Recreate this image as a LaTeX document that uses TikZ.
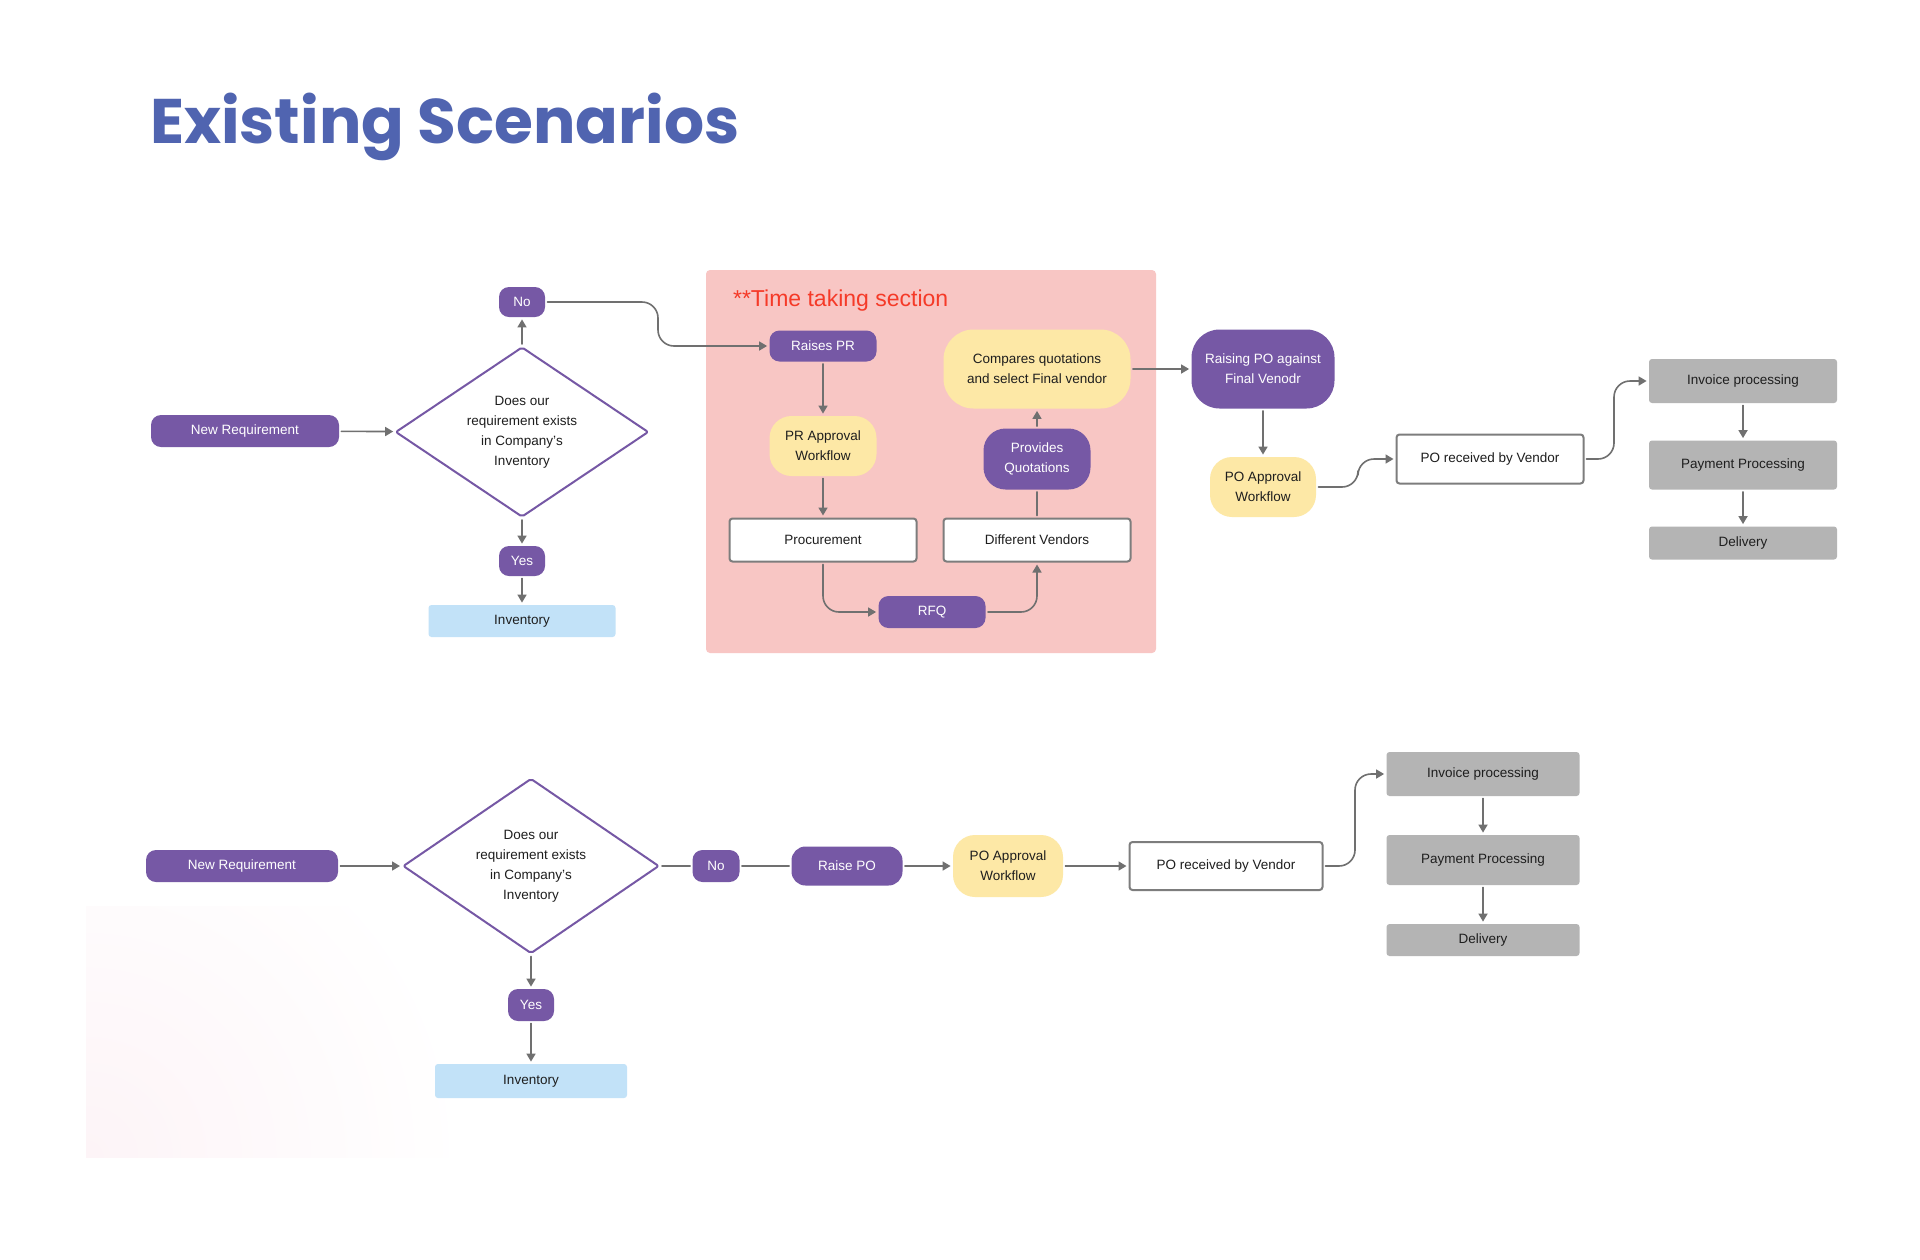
\documentclass[tikz,border=0pt]{standalone}
\usepackage{fontspec}
\setmainfont{Liberation Sans}
\newfontfamily\titlefont{Poppins}
\usetikzlibrary{shapes.geometric,arrows.meta}
\definecolor{scnpurple}{RGB}{118,88,165}
\definecolor{scnyellow}{RGB}{253,232,166}
\definecolor{scnpink}{RGB}{248,198,196}
\definecolor{scnblue}{RGB}{194,226,248}
\definecolor{scngray}{RGB}{180,180,180}
\definecolor{scnred}{RGB}{245,58,40}
\definecolor{titleblue}{RGB}{80,100,176}
\definecolor{linegray}{RGB}{112,112,112}
\definecolor{boxgray}{RGB}{125,125,125}
\definecolor{textdark}{RGB}{30,30,30}
\definecolor{scnblush}{RGB}{253,244,247}
\begin{document}
\begin{tikzpicture}[x=0.5pt,y=-0.5pt,line cap=round,line join=round,
  font=\fontsize{6.75}{10}\selectfont,text=textdark,
  conn/.style={draw=linegray,line width=0.8pt,shorten <=1pt,shorten >=1pt},
  arr/.style={conn,-{Triangle[length=4pt,width=4.5pt]}},
  purple/.style={fill=scnpurple,text=white,rounded corners=5pt,align=center,inner sep=0pt},
  yellow/.style={fill=scnyellow,rounded corners=11pt,align=center,inner sep=0pt},
  whitebox/.style={draw=boxgray,line width=1pt,fill=white,rounded corners=1.5pt,inner sep=0pt},
  graybox/.style={fill=scngray,rounded corners=1.5pt,inner sep=0pt},
  invbox/.style={fill=scnblue,rounded corners=1.5pt,inner sep=0pt},
  decision/.style={diamond,draw=scnpurple,line width=1pt,fill=white,aspect=1.49,inner sep=0pt,align=center,rounded corners=1pt}]
\useasboundingbox (0,0) rectangle (1920,1259);
\fill[white] (0,0) rectangle (1920,1259);
\begin{scope}
\clip (86,906) rectangle (453,1157);
\shade[inner color=scnblush,outer color=white] (86,1157) circle (380);
\end{scope}
\node[anchor=base west,text=titleblue,font=\titlefont\bfseries\fontsize{31.5}{36}\selectfont] (title) at (143,143) {Existing Scenarios};
\fill[scnpink,rounded corners=2pt] (706,270) rectangle (1156,653);
\node[anchor=base west,text=scnred,font=\fontsize{11.5}{14}\selectfont] (timetag) at (726,306) {**Time taking section};
\node[purple,minimum width=94pt,minimum height=16pt] (newreq) at (245,431) {New Requirement};
\node[decision,minimum width=126.5pt,minimum height=85pt] (check) at (522,432) {Does our\\requirement exists\\in Company’s\\Inventory};
\node[purple,minimum width=23pt,minimum height=15pt] (no) at (522,302) {No};
\node[purple,minimum width=23pt,minimum height=15pt] (yes) at (522,561) {Yes};
\node[invbox,minimum width=93.5pt,minimum height=16pt] (inv) at (522,621) {Inventory};
\node[purple,minimum width=53.5pt,minimum height=15.5pt] (raisepr) at (823,346) {Raises PR};
\node[yellow,minimum width=53.5pt,minimum height=30pt] (prappr) at (823,446) {PR Approval\\Workflow};
\node[whitebox,minimum width=93.5pt,minimum height=21.5pt] (procure) at (823,540) {Procurement};
\node[whitebox,minimum width=93.5pt,minimum height=21.5pt] (vendors) at (1037,540) {Different Vendors};
\node[purple,minimum width=53.5pt,minimum height=16pt] (rfq) at (932,612) {RFQ};
\node[purple,rounded corners=11pt,minimum width=53.5pt,minimum height=30.5pt] (quotes) at (1037,459) {Provides\\Quotations};
\node[yellow,rounded corners=15pt,minimum width=93.5pt,minimum height=39.5pt] (compare) at (1037,369) {Compares quotations\\and select Final vendor};
\node[purple,rounded corners=14pt,minimum width=71.5pt,minimum height=39.5pt] (raisingpo) at (1263,369) {Raising PO against\\Final Venodr};
\node[yellow,minimum width=53pt,minimum height=30pt] (poappr) at (1263,487) {PO Approval\\Workflow};
\node[whitebox,minimum width=93.5pt,minimum height=24.5pt] (porec) at (1490,459) {PO received by Vendor};
\node[graybox,minimum width=94pt,minimum height=22pt] (invoice) at (1743,381) {Invoice processing};
\node[graybox,minimum width=94pt,minimum height=24.5pt] (payment) at (1743,465) {Payment Processing};
\node[graybox,minimum width=94pt,minimum height=16.5pt] (delivery) at (1743,543) {Delivery};
\draw[arr] (newreq) -- (check);
\draw[arr] (check.north) -- (no.south);
\draw[arr] (check.south) -- (yes.north);
\draw[arr] (yes) -- (inv);
\draw[arr,rounded corners=8pt] (no.east) -| (658,346) -- (raisepr.west);
\draw[arr] (raisepr) -- (prappr);
\draw[arr] (prappr) -- (procure);
\draw[arr,rounded corners=8pt] (procure.south) |- (rfq.west);
\draw[arr,rounded corners=8pt] (rfq.east) -| (vendors.south);
\draw[conn] (vendors) -- (quotes);
\draw[arr] (quotes) -- (compare);
\draw[arr] (compare) -- (raisingpo);
\draw[arr] (raisingpo) -- (poappr);
\draw[arr,rounded corners=8pt] (poappr.east) -| (1358,459) -- (porec.west);
\draw[arr,rounded corners=8pt] (porec.east) -| (1614,381) -- (invoice.west);
\draw[arr] (invoice) -- (payment);
\draw[arr] (payment) -- (delivery);
\node[purple,minimum width=96pt,minimum height=16pt] (newreq2) at (242,866) {New Requirement};
\node[decision,minimum width=128pt,minimum height=87.5pt] (check2) at (531,866) {Does our\\requirement exists\\in Company’s\\Inventory};
\node[purple,minimum width=23pt,minimum height=16pt] (yes2) at (531,1005) {Yes};
\node[invbox,minimum width=96pt,minimum height=17pt] (inv2) at (531,1081) {Inventory};
\node[purple,minimum width=23.5pt,minimum height=16pt] (no2) at (716,866) {No};
\node[purple,rounded corners=7pt,minimum width=55.5pt,minimum height=19.5pt] (raisepo) at (847,866) {Raise PO};
\node[yellow,minimum width=55pt,minimum height=31pt] (poappr2) at (1008,866) {PO Approval\\Workflow};
\node[whitebox,minimum width=96.5pt,minimum height=24pt] (porec2) at (1226,866) {PO received by Vendor};
\node[graybox,minimum width=96.5pt,minimum height=22pt] (invoice2) at (1483,774) {Invoice processing};
\node[graybox,minimum width=96.5pt,minimum height=25pt] (payment2) at (1483,860) {Payment Processing};
\node[graybox,minimum width=96.5pt,minimum height=16pt] (delivery2) at (1483,940) {Delivery};
\draw[arr] (newreq2) -- (check2);
\draw[arr] (check2) -- (yes2);
\draw[arr] (yes2) -- (inv2);
\draw[conn] (check2) -- (no2);
\draw[conn] (no2) -- (raisepo);
\draw[arr] (raisepo) -- (poappr2);
\draw[arr] (poappr2) -- (porec2);
\draw[arr,rounded corners=8pt] (porec2.east) -| (1355,774) -- (invoice2.west);
\draw[arr] (invoice2) -- (payment2);
\draw[arr] (payment2) -- (delivery2);
\end{tikzpicture}
\end{document}
